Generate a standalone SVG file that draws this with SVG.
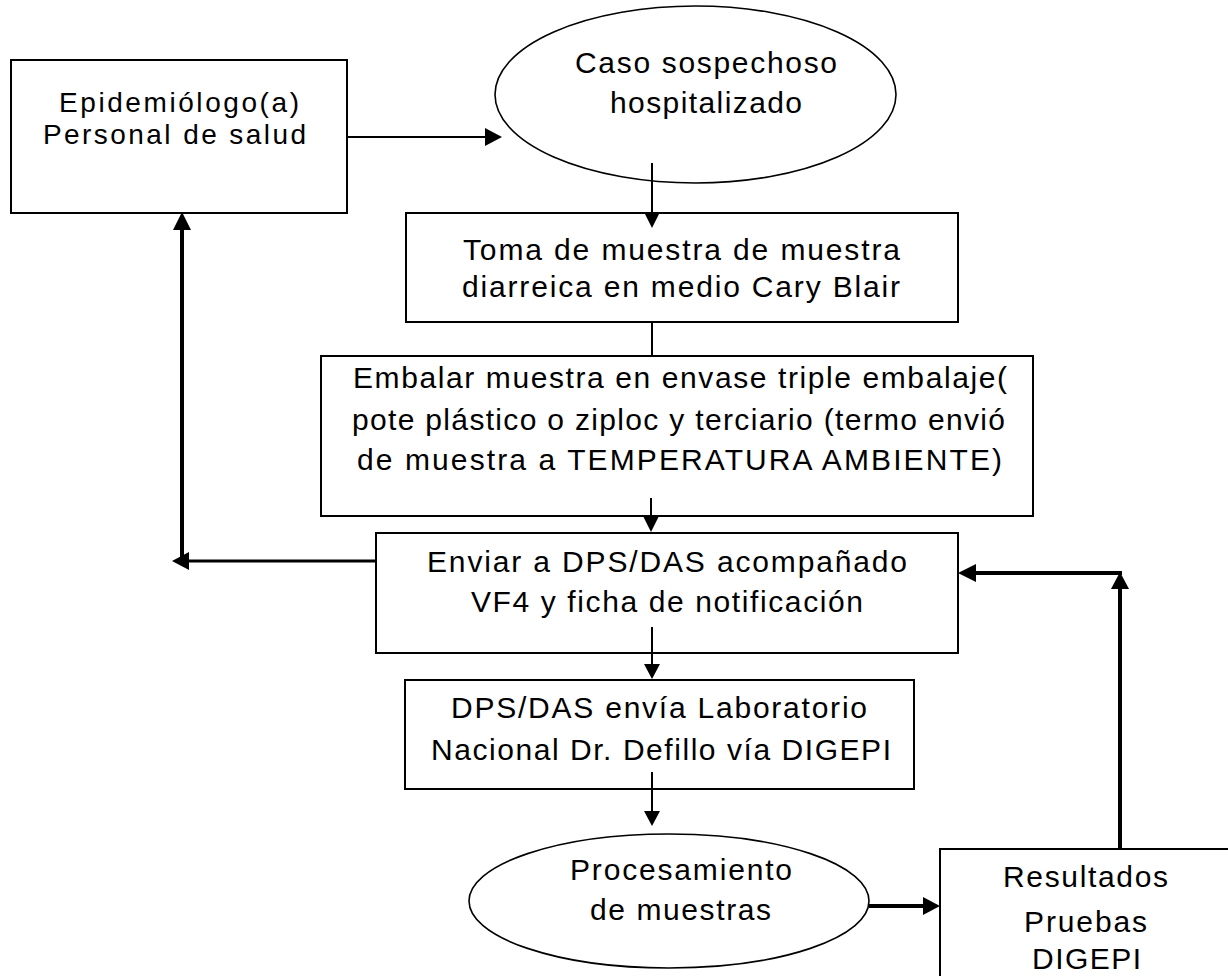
<svg xmlns="http://www.w3.org/2000/svg" width="1228" height="976" viewBox="0 0 1228 976">
<style>
.box{fill:#fff;stroke:#000;stroke-width:2}
.ell{fill:#fff;stroke:#000;stroke-width:1.6}
.t{font-family:"Liberation Sans",Arial,sans-serif;font-size:30px;fill:#000}
.ln{stroke:#000;fill:none;stroke-width:2}
.thk{stroke:#000;fill:none;stroke-width:4}
.ah{fill:#000;stroke:none}
</style>
<rect width="1228" height="976" fill="#fff"/>
<g id="n-epidemiologo">
<rect class="box" x="11" y="60" width="336" height="153"/>
<text class="t" x="59" y="112" textLength="240" lengthAdjust="spacing" style="font-size:28px">Epidemiólogo(a)</text>
<text class="t" x="43" y="144" textLength="263" lengthAdjust="spacing" style="font-size:28px">Personal de salud</text>
</g>
<g id="n-caso">
<ellipse class="ell" cx="695.5" cy="94.5" rx="200.5" ry="88.5"/>
<text class="t" x="575" y="73" textLength="262" lengthAdjust="spacing">Caso sospechoso</text>
<text class="t" x="610" y="113" textLength="192" lengthAdjust="spacing">hospitalizado</text>
</g>
<g id="n-toma">
<rect class="box" x="406" y="213" width="552" height="109"/>
<text class="t" x="463" y="260" textLength="437" lengthAdjust="spacing">Toma de muestra de muestra</text>
<text class="t" x="462" y="297" textLength="438" lengthAdjust="spacing">diarreica  en medio Cary Blair</text>
</g>
<g id="n-embalar">
<rect class="box" x="321" y="356" width="712" height="160"/>
<text class="t" x="353" y="388" textLength="654" lengthAdjust="spacing">Embalar muestra en envase triple embalaje(</text>
<text class="t" x="352" y="430" textLength="653" lengthAdjust="spacing">pote plástico o ziploc y terciario (termo envió</text>
<text class="t" x="357" y="470" textLength="645" lengthAdjust="spacing">de muestra a TEMPERATURA AMBIENTE)</text>
</g>
<g id="n-enviar">
<rect class="box" x="376" y="533" width="582" height="120"/>
<text class="t" x="427" y="572" textLength="480" lengthAdjust="spacing">Enviar a DPS/DAS acompañado</text>
<text class="t" x="471" y="612" textLength="392" lengthAdjust="spacing">VF4 y ficha de notificación</text>
</g>
<g id="n-dps">
<rect class="box" x="405" y="680" width="509" height="109"/>
<text class="t" x="451" y="718" textLength="416" lengthAdjust="spacing">DPS/DAS envía Laboratorio</text>
<text class="t" x="431" y="760" textLength="460" lengthAdjust="spacing">Nacional Dr. Defillo vía DIGEPI</text>
</g>
<g id="n-procesamiento">
<ellipse class="ell" cx="669" cy="901" rx="200" ry="67"/>
<text class="t" x="570" y="880" textLength="222" lengthAdjust="spacing">Procesamiento</text>
<text class="t" x="590" y="920" textLength="181" lengthAdjust="spacing">de muestras</text>
</g>
<g id="n-resultados">
<rect class="box" x="940" y="849" width="320" height="160"/>
<text class="t" x="1003" y="887" textLength="165" lengthAdjust="spacing">Resultados</text>
<text class="t" x="1024" y="932" textLength="123" lengthAdjust="spacing">Pruebas</text>
<text class="t" x="1032" y="969" textLength="109" lengthAdjust="spacing">DIGEPI</text>
</g>
<g id="connectors">
<line class="ln" x1="347" y1="137" x2="488" y2="137"/>
<polygon class="ah" points="502,137 485,128 485,146"/>
<line class="ln" x1="652" y1="163" x2="652" y2="214"/>
<polygon class="ah" points="652,228 644,212 660,212"/>
<line class="ln" x1="652" y1="322" x2="652" y2="356"/>
<line class="ln" x1="651" y1="498" x2="651" y2="518"/>
<polygon class="ah" points="651,532 643,516 659,516"/>
<line class="ln" x1="376" y1="561" x2="186" y2="561" style="stroke-width:3"/>
<polygon class="ah" points="172,561 189,552 189,570"/>
<line class="thk" x1="182" y1="559" x2="182" y2="226"/>
<polygon class="ah" points="182,212 173,230 191,230"/>
<line class="ln" x1="652" y1="627" x2="652" y2="666"/>
<polygon class="ah" points="652,679 644,664 660,664"/>
<line class="ln" x1="652" y1="772" x2="652" y2="813"/>
<polygon class="ah" points="652,826 644,811 660,811"/>
<line class="thk" x1="869" y1="906" x2="926" y2="906"/>
<polygon class="ah" points="940,906 923,897 923,915"/>
<line class="thk" x1="1120" y1="849" x2="1120" y2="586"/>
<polygon class="ah" points="1120,572 1111,589 1129,589"/>
<line class="thk" x1="1122" y1="573" x2="972" y2="573"/>
<polygon class="ah" points="958,573 976,564 976,582"/>
</g>
</svg>
